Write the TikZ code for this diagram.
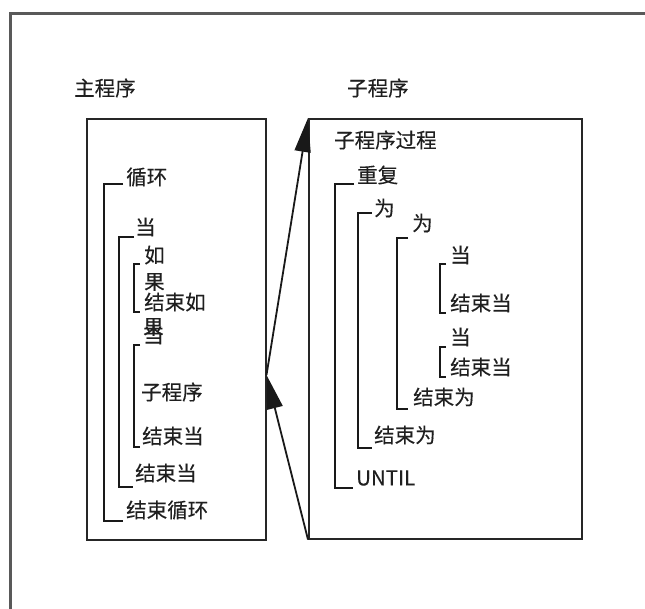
\documentclass[tikz,border=0pt]{standalone}
\usepackage{fontspec}
\newfontfamily\cjk[FakeBold=0.3]{Noto Sans CJK SC}
\usetikzlibrary{arrows.meta}
\tikzset{
 lbl/.style={anchor=west, inner sep=0pt, font=\cjk\fontsize{20.5}{20.5}\selectfont, text=black!88},
 brk/.style={line width=1.9pt, draw=black!90, line cap=butt, line join=miter},
 box/.style={draw=black!85, line width=1.6pt, inner sep=0pt, anchor=north west},
 frame/.style={line width=3pt, draw=black!65},
 callarrow/.style={line width=1.8pt, draw=black!90, -{Triangle[length=34pt,width=16pt]}},
}
\begin{document}
\begin{tikzpicture}[x=1pt,y=-1pt]
\useasboundingbox (0,0) rectangle (645,609);
\draw[frame] (10,609) -- (10,13.5) -- (645,13.5);

% boxes
\node[box, minimum width=179pt, minimum height=421pt] (mainbox) at (86,118) {};
\node[box, minimum width=273pt, minimum height=420pt] (subbox) at (308,118) {};

% titles
\node[lbl] (mainttl) at (74,88) {主程序};
\node[lbl] (subttl) at (347,88) {子程序};

% main program
\node[lbl] (loop) at (126,177) {循环};
\node[lbl] (whileA) at (135,227) {当};
\node[lbl] (ifA) at (144,255) {如};
\node[lbl] (guoA) at (144,282) {果};
\node[lbl] (endifA) at (144,302) {结束如};
\node[lbl] (guoB) at (143,327) {果};
\node[lbl] (whileB) at (143,335) {当};
\node[lbl] (callsub) at (141,392) {子程序};
\node[lbl] (endwhileB) at (142,436) {结束当};
\node[lbl] (endwhileA) at (135,473) {结束当};
\node[lbl] (endloop) at (126,510) {结束循环};

\draw[brk] (123,184) -- (104,184) -- (104,521) -- (123,521);
\draw[brk] (134,237) -- (119,237) -- (119,487) -- (133,487);
\draw[brk] (140,264) -- (134,264) -- (134,312) -- (140,312);
\draw[brk] (140,345) -- (134,345) -- (134,447) -- (140,447);

% subprogram
\node[lbl] (proc) at (334,140) {子程序过程};
\node[lbl] (repeat) at (357,175) {重复};
\node[lbl] (forA) at (374,208) {为};
\node[lbl] (forB) at (412,223) {为};
\node[lbl] (whC) at (450,255) {当};
\node[lbl] (endwhC) at (450,303) {结束当};
\node[lbl] (whD) at (450,337) {当};
\node[lbl] (endwhD) at (450,367) {结束当};
\node[lbl] (endforB) at (413,397) {结束为};
\node[lbl] (endforA) at (374,435) {结束为};
\node[lbl] (until) at (356,478) {UNTIL};

\draw[brk] (354,184) -- (335,184) -- (335,488) -- (353,488);
\draw[brk] (372,213) -- (358,213) -- (358,448) -- (372,448);
\draw[brk] (408,238) -- (397,238) -- (397,409) -- (408,409);
\draw[brk] (446,264) -- (440,264) -- (440,313) -- (446,313);
\draw[brk] (446,347) -- (440,347) -- (440,377) -- (446,377);

% call and return arrows
\coordinate (callpt) at (266.5,375);
\draw[callarrow] (callpt) -- (subbox.north west);
\draw[callarrow] (subbox.south west) -- (callpt);
\end{tikzpicture}
\end{document}
